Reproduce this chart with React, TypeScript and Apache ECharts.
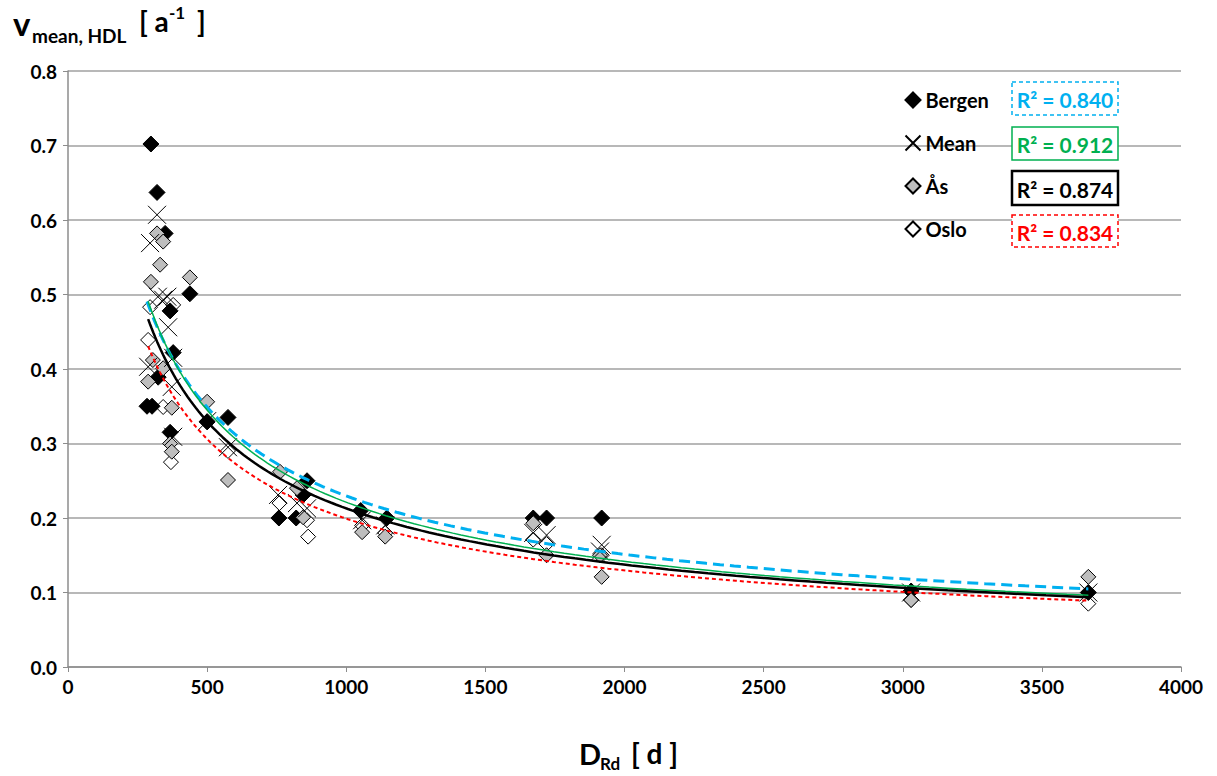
import React, { useEffect, useRef } from "react";
import * as echarts from "echarts";

// ---- data ----
const bergen: number[][] = [
  [298, 0.702], [320, 0.637], [349, 0.582], [438, 0.501], [367, 0.478], [378, 0.422],
  [324, 0.389], [284, 0.35], [302, 0.35], [367, 0.315], [500, 0.329], [575, 0.335],
  [758, 0.2], [820, 0.2], [859, 0.25], [845, 0.231], [1052, 0.21], [1146, 0.2],
  [1672, 0.2], [1720, 0.2], [1918, 0.2], [3030, 0.102], [3667, 0.1],
];
const mean: number[][] = [
  [320, 0.607], [295, 0.569], [323, 0.497], [342, 0.493], [357, 0.497], [360, 0.456],
  [378, 0.415], [288, 0.403], [373, 0.376], [378, 0.309], [500, 0.33], [575, 0.295],
  [755, 0.231], [823, 0.22], [859, 0.213], [1057, 0.197], [1140, 0.19], [1672, 0.18],
  [1720, 0.177], [1918, 0.164], [1912, 0.155], [3030, 0.1], [3667, 0.1],
];
const aas: number[][] = [
  [320, 0.582], [342, 0.571], [331, 0.54], [298, 0.517], [438, 0.523], [305, 0.412],
  [342, 0.401], [288, 0.383], [373, 0.348], [500, 0.356], [367, 0.3], [373, 0.289],
  [575, 0.251], [762, 0.262], [823, 0.24], [845, 0.201], [1057, 0.181], [1140, 0.175],
  [1672, 0.193], [1720, 0.15], [1912, 0.15], [1918, 0.121], [3030, 0.09], [3667, 0.121],
];
const oslo: number[][] = [
  [288, 0.439], [295, 0.483], [342, 0.349], [378, 0.486], [370, 0.275], [500, 0.33],
  [575, 0.29], [760, 0.22], [859, 0.197], [863, 0.175], [1057, 0.19], [1140, 0.18],
  [1672, 0.171], [1720, 0.165], [1918, 0.15], [3030, 0.09], [3667, 0.085],
];
const r2Labels = ["R² = 0.840", "R² = 0.912", "R² = 0.874", "R² = 0.834"];
const xTicks = { min: 0, max: 4000, interval: 500 };
const yTicks = { min: 0, max: 0.8, interval: 0.1 };

const BLUE = "#00B0F0";
const GREEN = "#00B050";
const RED = "#FF0000";
const FONT = "Lato, 'Open Sans', sans-serif";

function powerFit(pts: number[][]) {
  let n = pts.length, sx = 0, sy = 0, sxx = 0, sxy = 0;
  for (const [x, y] of pts) {
    const lx = Math.log(x), ly = Math.log(y);
    sx += lx; sy += ly; sxx += lx * lx; sxy += lx * ly;
  }
  const b = (n * sxy - sx * sy) / (n * sxx - sx * sx);
  const a = Math.exp((sy - b * sx) / n);
  return { a, b };
}
function trend(pts: number[][]) {
  const { a, b } = powerFit(pts);
  const xs = pts.map((p) => p[0]);
  const lo = Math.min(...xs), hi = Math.max(...xs);
  const out: number[][] = [];
  const N = 120;
  for (let i = 0; i <= N; i++) {
    const x = lo * Math.pow(hi / lo, i / N);
    out.push([x, a * Math.pow(x, b)]);
  }
  return out;
}

const XPATH = "path://M0,0L10,10M10,0L0,10";

export default function App() {
  const ref = useRef<HTMLDivElement>(null);
  useEffect(() => {
    document.body.style.margin = "0";
    const chart = echarts.init(ref.current!, null, { renderer: "svg" });
    const boxes = [
      { y: 82, h: 33, c: BLUE, w: 1.5, dash: [4, 3] as any },
      { y: 127, h: 33, c: GREEN, w: 1.5, dash: null },
      { y: 171, h: 34, c: "#000", w: 2.5, dash: null },
      { y: 215, h: 32, c: RED, w: 1.5, dash: [4, 3] as any },
    ];
    const graphic: any[] = [];
    boxes.forEach((bx, i) => {
      graphic.push({
        type: "rect", z: 100,
        shape: { x: 1012, y: bx.y, width: 106, height: bx.h },
        style: { fill: "#fff", stroke: bx.c, lineWidth: bx.w, lineDash: bx.dash },
      });
      graphic.push({
        type: "text", z: 101, x: 1065, y: bx.y + bx.h / 2 + 1,
        style: {
          text: r2Labels[i], fill: bx.c,
          font: `bold 21px ${FONT}`, align: "center", verticalAlign: "middle",
        },
      });
    });
    // y axis title
    graphic.push(
      { type: "text", x: 13, y: 6, style: { text: "v", font: `bold 33px ${FONT}`, fill: "#000", verticalAlign: "top" } },
      { type: "text", x: 32, y: 26, style: { text: "mean, HDL", font: `bold 19px ${FONT}`, fill: "#000", verticalAlign: "top" } },
      { type: "text", x: 139, y: 7, style: { text: "[ a", font: `bold 28px ${FONT}`, fill: "#000", verticalAlign: "top" } },
      { type: "text", x: 169, y: 4, style: { text: "-1", font: `bold 17px ${FONT}`, fill: "#000", verticalAlign: "top" } },
      { type: "text", x: 197, y: 7, style: { text: "]", font: `bold 28px ${FONT}`, fill: "#000", verticalAlign: "top" } },
    );
    // x axis title
    graphic.push(
      { type: "text", x: 579, y: 739, style: { text: "D", font: `bold 29px ${FONT}`, fill: "#000", verticalAlign: "top" } },
      { type: "text", x: 600, y: 755, style: { text: "Rd", font: `bold 17px ${FONT}`, fill: "#000", verticalAlign: "top" } },
      { type: "text", x: 631, y: 739, style: { text: "[ d ]", font: `bold 28px ${FONT}`, fill: "#000", verticalAlign: "top" } },
    );

    const scatterBase = { type: "scatter", z: 3 };
    chart.setOption({
      animation: false,
      backgroundColor: "#fff",
      grid: { left: 68, right: 36, top: 71, bottom: 109 },
      xAxis: {
        type: "value", ...xTicks,
        axisLine: { show: true, lineStyle: { color: "#8c8c8c", width: 1.5 } },
        axisTick: { show: true, length: 5, lineStyle: { color: "#8c8c8c" } },
        splitLine: { show: false },
        axisLabel: {
          color: "#000", fontFamily: FONT, fontWeight: "bold", fontSize: 19, margin: 10,
          formatter: (v: number) => String(v),
        },
      },
      yAxis: {
        type: "value", ...yTicks,
        axisLine: { show: true, lineStyle: { color: "#8c8c8c", width: 1.5 } },
        axisTick: { show: true, length: 5, lineStyle: { color: "#8c8c8c" } },
        splitLine: { show: true, lineStyle: { color: "#a0a0a0", width: 1.5 } },
        axisLabel: {
          color: "#000", fontFamily: FONT, fontWeight: "bold", fontSize: 19, margin: 11,
          formatter: (v: number) => v.toFixed(1),
        },
      },
      legend: {
        orient: "vertical", left: 898, top: 85, itemWidth: 15, itemHeight: 15, itemGap: 23,
        textStyle: { color: "#000", fontFamily: FONT, fontWeight: "bold", fontSize: 20 },
        data: ["Bergen", "Mean", "Ås", "Oslo"],
      },
      graphic,
      series: [
        { ...scatterBase, name: "Oslo", data: oslo, symbol: "diamond", symbolSize: 15,
          itemStyle: { color: "#fff", borderColor: "#000", borderWidth: 1, opacity: 1 } },
        { ...scatterBase, name: "Bergen", data: bergen, symbol: "diamond", symbolSize: 16,
          itemStyle: { color: "#000", borderColor: "#000", borderWidth: 1, opacity: 1 } },
        { ...scatterBase, name: "Ås", data: aas, symbol: "diamond", symbolSize: 15,
          itemStyle: { color: "#BEBEBE", borderColor: "#000", borderWidth: 1, opacity: 1 } },
        { ...scatterBase, name: "Mean", data: mean, symbol: XPATH, symbolSize: 18,
          itemStyle: { color: "none", borderColor: "#000", borderWidth: 1, opacity: 1 } },
        { type: "line", z: 4, data: trend(bergen), showSymbol: false, silent: true,
          lineStyle: { color: BLUE, width: 3, type: [11, 6] } },
        { type: "line", z: 4, data: trend(mean), showSymbol: false, silent: true,
          lineStyle: { color: GREEN, width: 1.5 } },
        { type: "line", z: 4, data: trend(aas), showSymbol: false, silent: true,
          lineStyle: { color: "#000", width: 2.5 } },
        { type: "line", z: 4, data: trend(oslo), showSymbol: false, silent: true,
          lineStyle: { color: RED, width: 2, type: [4, 3] } },
      ],
    });
    return () => chart.dispose();
  }, []);
  return <div ref={ref} style={{ width: 1217, height: 776 }} />;
}
